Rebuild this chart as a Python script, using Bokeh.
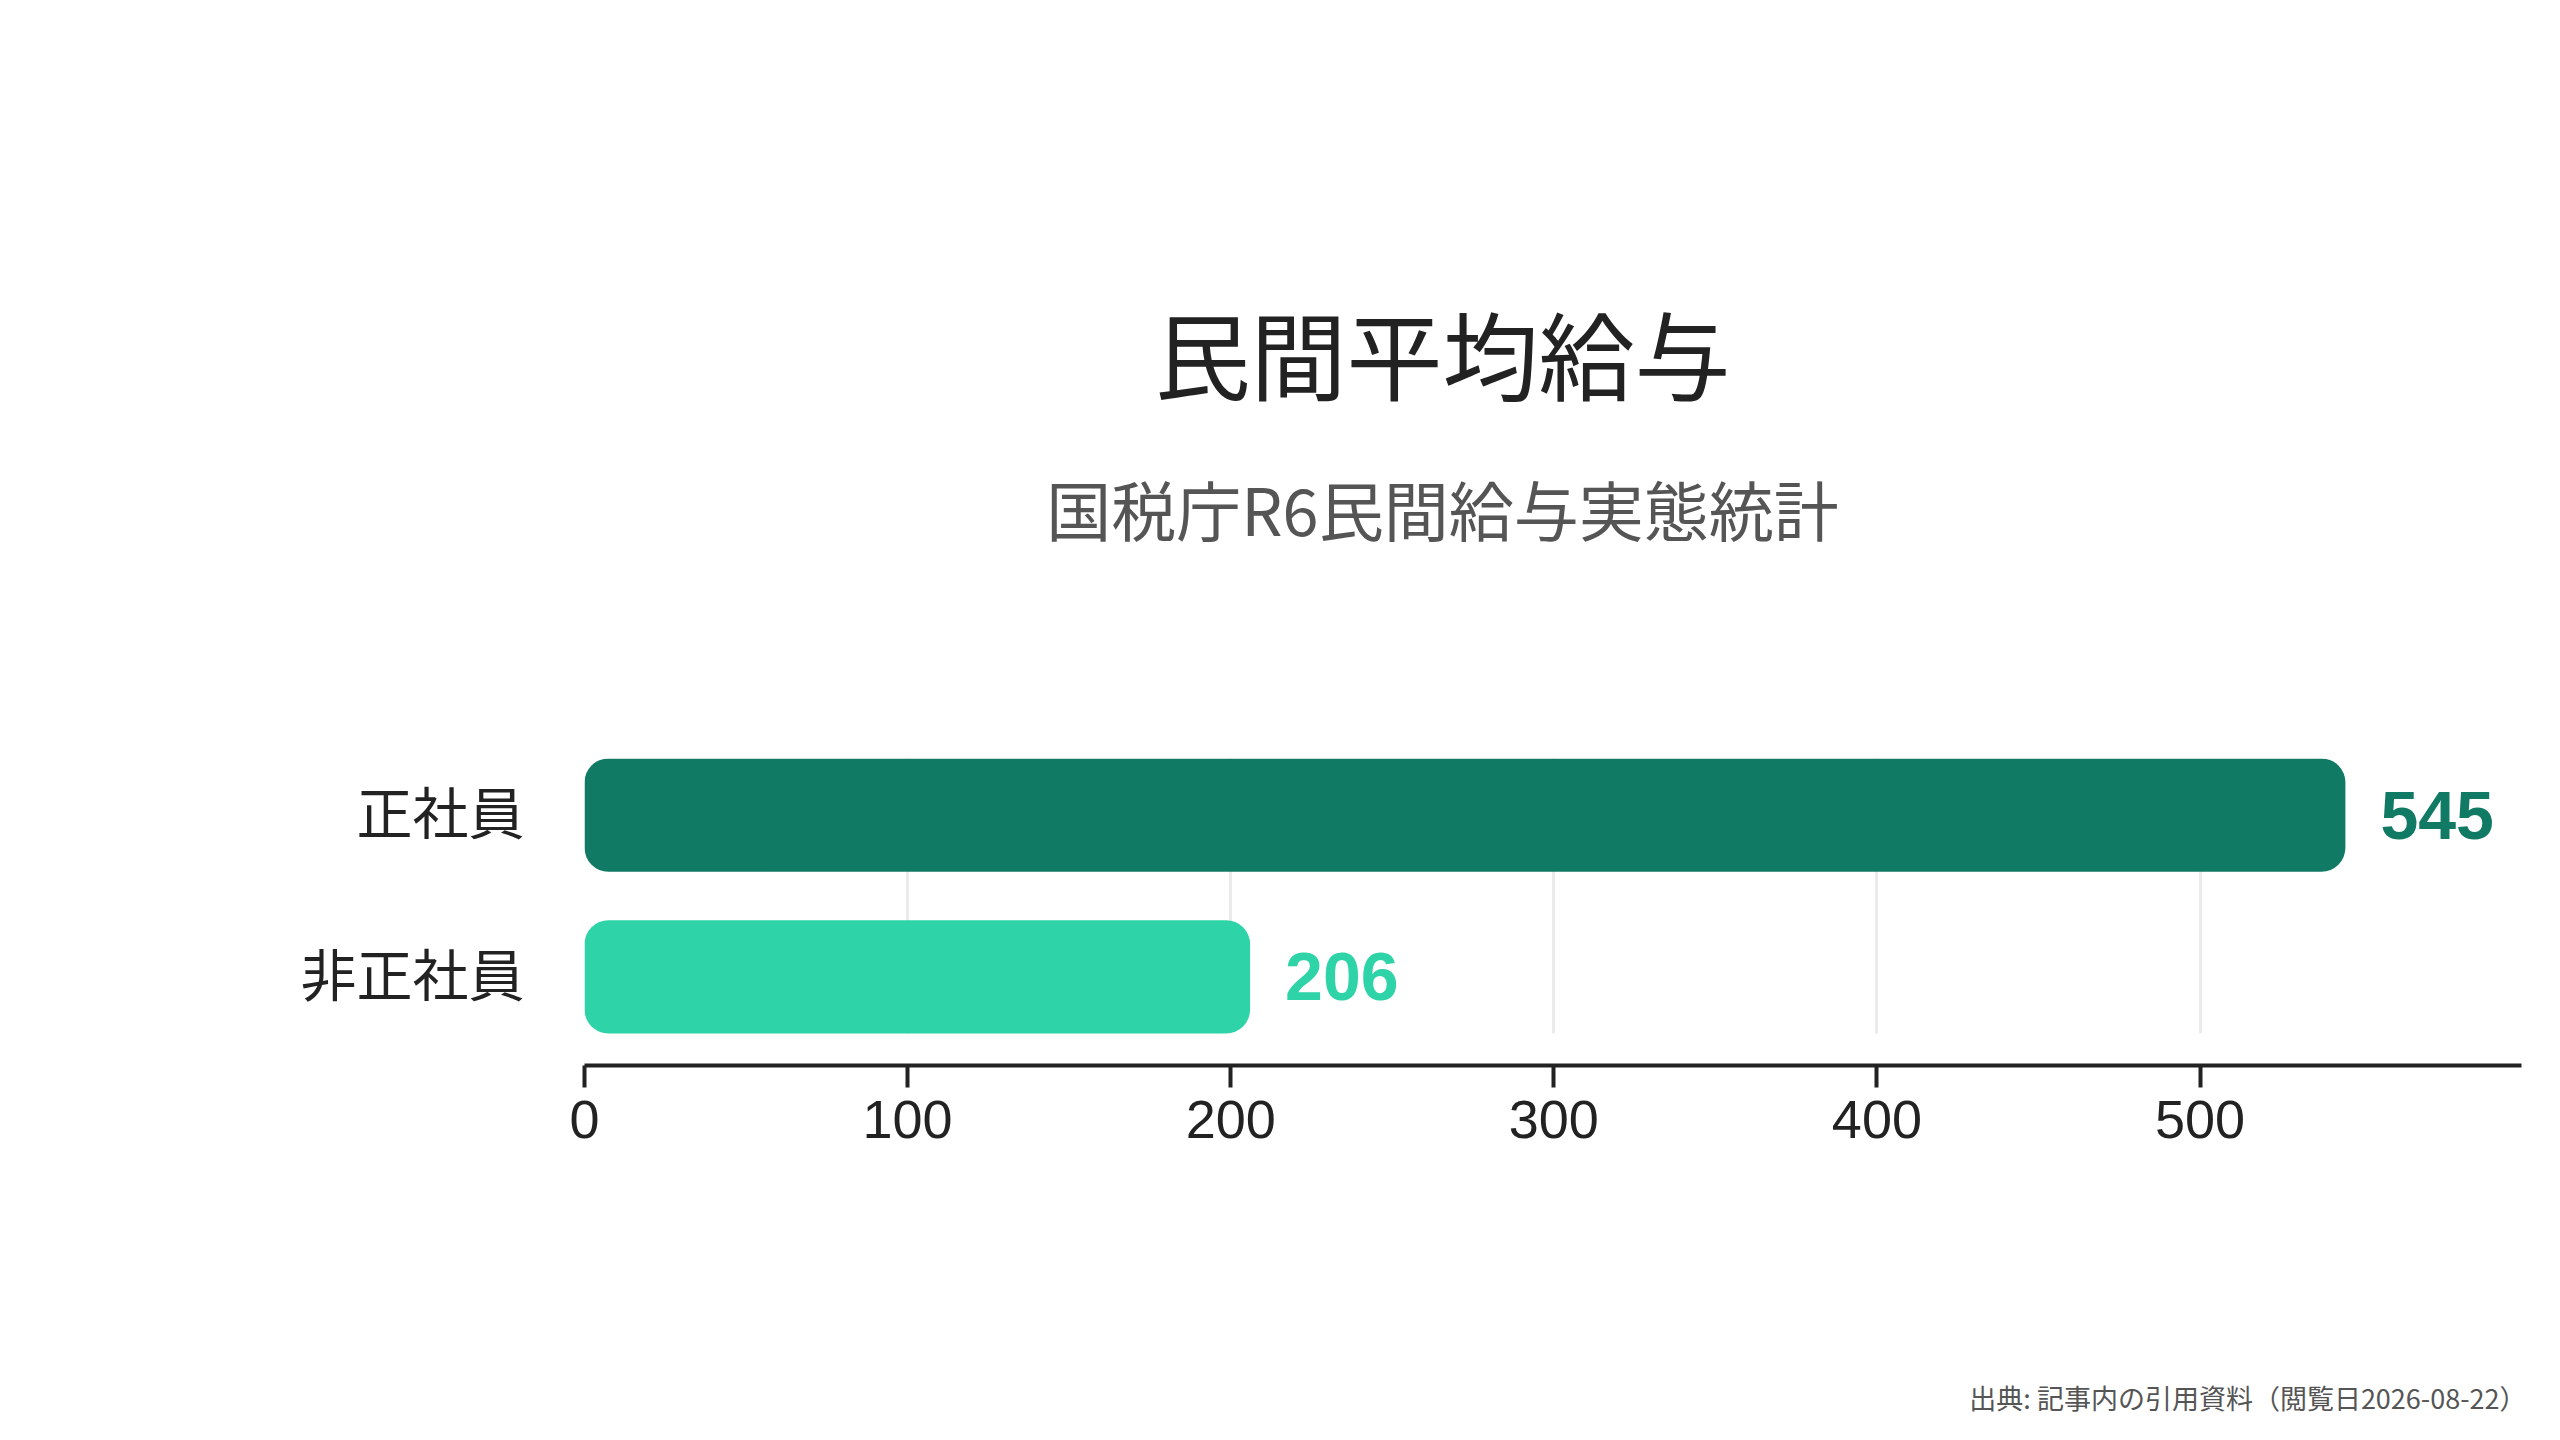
from bokeh.plotting import figure
from bokeh.layouts import column
from bokeh.models import Range1d, FixedTicker, Label, ColumnDataSource, Grid
from bokeh.core.properties import value
from bokeh.embed import file_html
from bokeh.resources import INLINE

# ---- data ----
categories = ["正社員", "非正社員"]
values = [545, 206]
bar_colors = ["#107A65", "#2ED3A7"]
x_ticks = [0, 100, 200, 300, 400, 500]
title_text = "民間平均給与"
subtitle_text = "国税庁R6民間給与実態統計"
source_text = "出典: 記事内の引用資料（閲覧日2026-08-22）"

JP = "Noto Sans CJK JP"
NUM = "Liberation Sans"
W = 2544
LEFT, RIGHT = 584, 23
HEAD_H = 758
FRAME_H = 307
AXIS_H = 120
FOOT_H = 1424 - HEAD_H - FRAME_H - AXIS_H
LABEL_NUDGE = 0.035  # optical centring of CJK category labels


def blank(h):
    # frame aligned with the chart frame; data x == canvas pixel x
    f = figure(width=W, height=h, output_backend="svg", toolbar_location=None,
               x_range=Range1d(LEFT, W - RIGHT), y_range=Range1d(0, h),
               x_axis_location=None, y_axis_location=None, min_border=0,
               min_border_left=LEFT, min_border_right=RIGHT, title=None)
    f.grid.visible = False
    f.outline_line_color = None
    f.background_fill_color = "white"
    f.border_fill_color = "white"
    return f


# ---- header (title + subtitle) ----
head = blank(HEAD_H)
head.add_layout(Label(x=1442, y=HEAD_H - 351, text=title_text, text_align="center",
                      text_baseline="middle", text_font=JP, text_font_size="96px",
                      text_color="#222222"))
head.add_layout(Label(x=1442, y=HEAD_H - 507, text=subtitle_text, text_align="center",
                      text_baseline="middle", text_font=JP, text_font_size="65px",
                      text_color="#555555"))

# ---- main bar chart ----
n = len(categories)
ypos = [n - 0.5 - i for i in range(n)]
src = ColumnDataSource(dict(cat=categories, val=values, y=ypos, color=bar_colors,
                            label=[str(v) for v in values]))

p = figure(width=W, height=FRAME_H + AXIS_H, output_backend="svg", toolbar_location=None,
           x_range=Range1d(0, max(values) * 1.1), y_range=Range1d(-0.048, n - 0.15),
           min_border_left=LEFT, min_border_right=RIGHT, min_border_top=0,
           min_border_bottom=AXIS_H, title=None)
p.outline_line_color = None
p.background_fill_color = "white"
p.border_fill_color = "white"

p.hbar(y="y", right="val", left=0, height=0.7, fill_color="color", line_color=None,
       source=src, border_radius=24)
p.text(x="val", y="y", text="label", text_color="color", source=src, x_offset=35,
       text_align="left", text_baseline="middle", text_font=value(NUM),
       text_font_size="68px", text_font_style="bold")

xa = p.xaxis[0]
xa.ticker = FixedTicker(ticks=x_ticks)
xa.axis_line_color = "#222222"
xa.axis_line_width = 4
xa.major_tick_line_color = "#222222"
xa.major_tick_line_width = 4
xa.major_tick_out = 22
xa.major_tick_in = 0
xa.minor_tick_line_color = None
xa.major_label_text_font = NUM
xa.major_label_text_font_size = "54px"
xa.major_label_text_color = "#222222"
xa.major_label_standoff = 13

ya = p.yaxis[0]
ytick_pos = [y + LABEL_NUDGE for y in ypos]
ya.ticker = FixedTicker(ticks=ytick_pos)
ya.major_label_overrides = {y: c for y, c in zip(ytick_pos, categories)}
ya.axis_line_color = None
ya.major_tick_line_color = None
ya.minor_tick_line_color = None
ya.major_tick_out = 0
ya.major_tick_in = 0
ya.major_label_text_font = JP
ya.major_label_text_font_size = "56px"
ya.major_label_text_color = "#222222"
ya.major_label_standoff = 60

p.ygrid.grid_line_color = None
g = p.xgrid[0]
g.grid_line_color = "#EBEBEB"
g.grid_line_width = 3
if "cross_bounds" in Grid.properties():
    g.cross_bounds = (0.5 - 0.35, n - 0.15)

# ---- footer ----
foot = blank(FOOT_H)
foot.add_layout(Label(x=2526, y=FOOT_H - (1397 - HEAD_H - FRAME_H - AXIS_H),
                      text=source_text, text_align="right", text_baseline="middle",
                      text_font=JP, text_font_size="27px", text_color="#555555"))

page = column(head, p, foot, spacing=0)
open("out.html", "w").write(file_html(page, INLINE))
